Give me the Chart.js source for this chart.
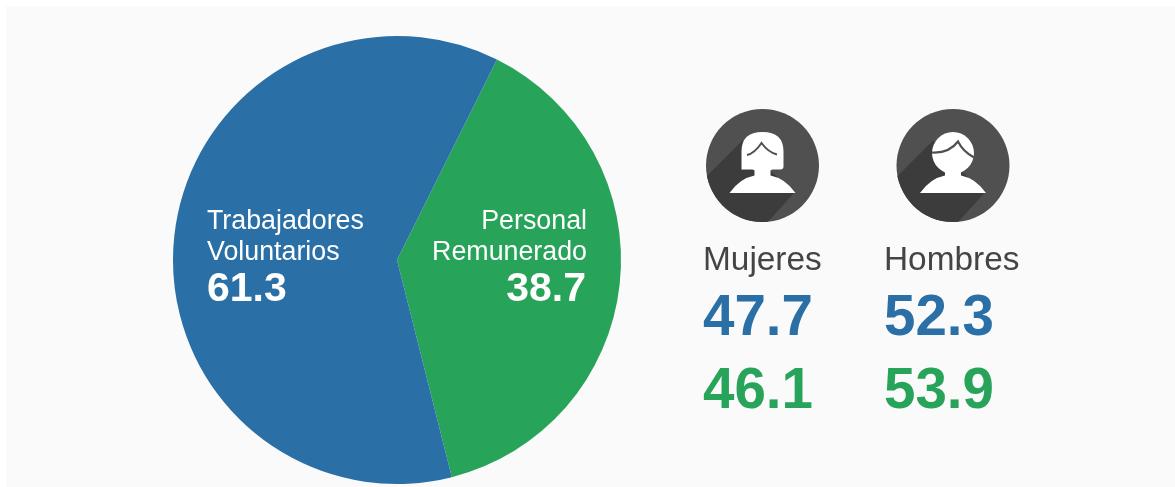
<!DOCTYPE html>
<html><head><meta charset="utf-8">
<script src="https://cdn.jsdelivr.net/npm/chart.js@4/dist/chart.umd.min.js"></script>
<style>
html,body{margin:0;padding:0;background:#fff;overflow:hidden}
#wrap{position:absolute;left:0;top:0;width:1175px;height:487px}
#panel{position:absolute;left:6px;top:6px;right:0;bottom:0;background:#fafafa}
canvas{position:absolute;left:0;top:0}
</style></head><body>
<div id="wrap"><div id="panel"></div><canvas id="c" width="1175" height="487"></canvas></div>
<script>
const categories = [['Personal','Remunerado'], ['Trabajadores','Voluntarios']];
const shareValues = [38.7, 61.3];
const sliceColors = ['#27a35a', '#2a6fa5'];
const genderLabels = ['Mujeres', 'Hombres'];
const voluntariosByGender = [47.7, 52.3];
const remuneradoByGender = [46.1, 53.9];

function person(ctx, cx, cy, female){
  ctx.save();
  ctx.beginPath(); ctx.arc(cx,cy,56.5,0,Math.PI*2); ctx.fillStyle='#505050'; ctx.fill();
  ctx.clip();
  ctx.beginPath();
  ctx.moveTo(cx-62,cy+17); ctx.lineTo(cx-20,cy-25); ctx.lineTo(cx+2,cy);
  ctx.lineTo(cx+32,cy+27); ctx.lineTo(cx+2,cy+60); ctx.lineTo(cx-62,cy+60); ctx.closePath();
  ctx.fillStyle='#3c3c3c'; ctx.fill();
  ctx.fillStyle='#fff';
  // shoulders and neck
  ctx.beginPath();
  ctx.moveTo(cx-33,cy+27.5);
  ctx.quadraticCurveTo(cx-23,cy+13,cx-8,cy+10);
  ctx.lineTo(cx-8,cy); ctx.lineTo(cx+8,cy); ctx.lineTo(cx+8,cy+10);
  ctx.quadraticCurveTo(cx+23,cy+13,cx+33,cy+27.5);
  ctx.closePath(); ctx.fill();
  if(female){
    ctx.beginPath();
    ctx.moveTo(cx-21,cy+4);
    ctx.lineTo(cx-21,cy-14);
    ctx.quadraticCurveTo(cx-21,cy-33.5,cx,cy-33.5);
    ctx.quadraticCurveTo(cx+21,cy-33.5,cx+21,cy-14);
    ctx.lineTo(cx+21,cy+1);
    ctx.quadraticCurveTo(cx+21,cy+4,cx+18,cy+4);
    ctx.lineTo(cx+10,cy+4);
    ctx.quadraticCurveTo(cx,cy+10,cx-10,cy+4);
    ctx.closePath(); ctx.fill();
    ctx.strokeStyle='#505050'; ctx.lineWidth=2;
    ctx.beginPath();
    ctx.moveTo(cx-15.5,cy-10.5); ctx.quadraticCurveTo(cx-8,cy-12,cx-1,cy-22.5);
    ctx.quadraticCurveTo(cx+6,cy-13,cx+14.5,cy-11); ctx.stroke();
  } else {
    ctx.beginPath(); ctx.arc(cx,cy-12.5,21,0,Math.PI*2); ctx.fill();
    ctx.strokeStyle='#505050'; ctx.lineWidth=2.2;
    ctx.beginPath();
    ctx.moveTo(cx-21,cy-13); ctx.quadraticCurveTo(cx-4,cy-12,cx+5,cy-24);
    ctx.quadraticCurveTo(cx+10,cy-14,cx+21,cy-8); ctx.stroke();
  }
  ctx.restore();
}

const annotate = {
  id:'annotate',
  afterDraw(chart){
    const ctx = chart.ctx;
    const F = 'Liberation Sans, Arial, sans-serif';
    ctx.save();
    ctx.textBaseline='alphabetic';
    ctx.fillStyle='#fff';
    ctx.textAlign='right';
    ctx.font='26.8px '+F;
    ctx.fillText(categories[0][0],587,229);
    ctx.fillText(categories[0][1],587,260);
    ctx.font='bold 41px '+F;
    ctx.fillText(shareValues[0].toFixed(1),586,301);
    ctx.textAlign='left';
    ctx.font='26.8px '+F;
    ctx.fillText(categories[1][0],207,229);
    ctx.fillText(categories[1][1],207,260);
    ctx.font='bold 41px '+F;
    ctx.fillText(shareValues[1].toFixed(1),207,301);
    const xs=[703,884];
    xs.forEach((x,i)=>{
      ctx.fillStyle='#444';
      ctx.font='33.4px '+F;
      ctx.fillText(genderLabels[i],x,270);
      ctx.font='bold 56.5px '+F;
      ctx.fillStyle=sliceColors[1];
      ctx.fillText(voluntariosByGender[i].toFixed(1),x,335);
      ctx.fillStyle=sliceColors[0];
      ctx.fillText(remuneradoByGender[i].toFixed(1),x,408);
    });
    ctx.restore();
    person(ctx,762.5,165.5,true);
    person(ctx,953,165.5,false);
  }
};

new Chart(document.getElementById('c'),{
  type:'pie',
  data:{labels:categories.map(c=>c.join(' ')),datasets:[{data:shareValues,backgroundColor:sliceColors,borderWidth:0}]},
  options:{
    responsive:false,animation:false,
    rotation:26.5,
    layout:{padding:{left:172,right:553,top:36,bottom:3}},
    plugins:{legend:{display:false},tooltip:{enabled:false}}
  },
  plugins:[annotate]
});
</script></body></html>
